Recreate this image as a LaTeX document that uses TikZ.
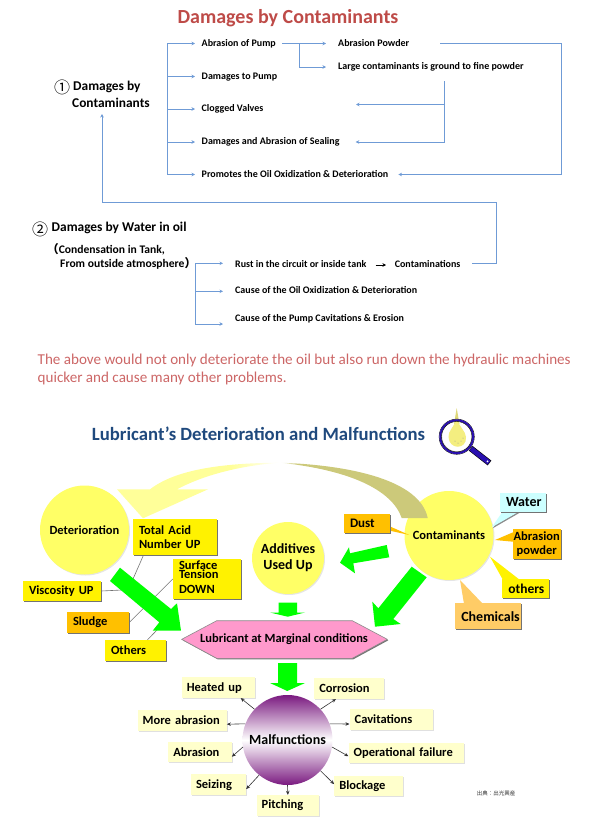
\documentclass[tikz,border=0pt]{standalone}
\usepackage{fontspec}
\setmainfont{Carlito}
\newfontfamily\cjk{Noto Sans CJK JP}
\usetikzlibrary{arrows.meta,positioning,calc,shadows}
\definecolor{flowblue}{HTML}{6F9BD6}
\definecolor{redtitle}{HTML}{BE4B48}
\definecolor{rednote}{HTML}{CC6666}
\definecolor{navytitle}{HTML}{1F497D}
\definecolor{circyellow}{HTML}{FFFF66}
\definecolor{tagorange}{HTML}{FFC000}
\definecolor{tagcyan}{HTML}{CCFFFF}
\definecolor{tagpeach}{HTML}{FFCC66}
\definecolor{hexpink}{HTML}{FF99CC}
\definecolor{paleyellow}{HTML}{FFFFCC}
\definecolor{arcyellow}{HTML}{FFFF99}
\definecolor{arctan}{HTML}{CCC97A}
\definecolor{purplem}{HTML}{7A1A80}
\definecolor{lensblue}{HTML}{2A10B0}
\pgfdeclarehorizontalshading{arcleft}{100bp}{color(0bp)=(arcyellow); color(60bp)=(arcyellow); color(75bp)=(white); color(100bp)=(white)}
\pgfdeclarehorizontalshading{arcright}{100bp}{color(0bp)=(white); color(25bp)=(white); color(31bp)=(arctan); color(100bp)=(arctan)}
\begin{document}
\begin{tikzpicture}[
    x=1pt,y=-1pt,
    flow/.style={-{Stealth[length=3.5pt,width=3.5pt]},flowblue,line width=0.7pt},
    item/.style={font=\fontsize{10}{12}\selectfont\bfseries,anchor=west,inner sep=0pt,text height=1.5ex,text depth=.3ex},
    head/.style={font=\fontsize{13.4}{15}\selectfont\bfseries,anchor=west,inner sep=0pt,text height=1.5ex,text depth=.3ex},
    sub/.style={item,font=\fontsize{11.6}{13}\selectfont\bfseries},
    note/.style={font=\fontsize{15.1}{18}\selectfont,text=rednote,anchor=west,inner sep=0pt},
    softshadow/.style={drop shadow={shadow xshift=1pt,shadow yshift=-1pt,fill=black!#1,opacity=1}},
    bigcirc/.style={circle,fill=circyellow,inner sep=0pt,minimum size=#1,softshadow=10},
    tagtext/.style={font=\fontsize{12.5}{14.5}\selectfont\bfseries,align=left,inner xsep=6pt,inner ysep=0pt},
    tag/.style={tagtext,fill=yellow,softshadow=55},
    pale/.style={tagtext,fill=paleyellow,inner xsep=5pt,softshadow=12},
    wire/.style={black!55,line width=0.6pt},
    greenarrow/.style={fill=green},
    spoke/.style={-{Stealth[length=4pt,width=3.5pt]},black!80,line width=0.6pt},
]
    \useasboundingbox (0,0) rectangle (600,830);

    % upper half
    \node[font=\fontsize{20}{24}\selectfont\bfseries,text=redtitle,inner sep=0pt] (toptitle) at (288,18) {Damages by Contaminants};
    \node[head,align=left] (dmgone) at (72,105) {Contaminants};
    \node[head] (dmgtitle) at (73,88) {Damages by};
    \node[font=\cjk\fontsize{16}{16}\selectfont,inner sep=0pt] (numone) at (62,87) {①};

    \node[item] (pump) at (201.5,43.5) {Abrasion of Pump};
    \node[item] (dmgpump) at (201.5,76.5) {Damages to Pump};
    \node[item] (valves) at (201.5,109) {Clogged Valves};
    \node[item] (sealing) at (201.5,142) {Damages and Abrasion of Sealing};
    \node[item] (oxid) at (201.5,174.5) {Promotes the Oil Oxidization \& Deterioration};
    \node[item] (powder) at (338,43.5) {Abrasion Powder};
    \node[item] (large) at (338,67) {Large contaminants is ground to fine powder};

    \coordinate (trunkA) at (167,109);
    \coordinate (splitA) at (299,43.5);
    \coordinate (rightbus) at (561.5,100);
    \coordinate (tapL) at (444.6,81);
    \coordinate (valvesin) at (356,104.5);
    \coordinate (turn) at (496,202.7);
    \coordinate (titlein) at (102,114);

    \foreach \n in {pump,dmgpump,valves,sealing,oxid}
        \draw[flow,shorten >=6.5pt] (trunkA) |- (\n.west);
    \draw[flow,shorten <=6pt,shorten >=12pt] (pump.east) -- (powder.west);
    \draw[flow,shorten >=12pt] (splitA) |- (large.west);
    \draw[flow,shorten <=31pt,shorten >=10pt] (powder.east) -| (rightbus) |- (oxid.east);
    \draw[flow,shorten >=16pt] (tapL) |- (sealing.east);
    \draw[flow] (tapL) |- (valvesin);

    % water in oil
    \node[font=\cjk\fontsize{16}{16}\selectfont,inner sep=0pt] (numtwo) at (40,229) {②};
    \node[head] (watertitle) at (51.5,229) {Damages by Water in oil};
    \node[sub] (cond) at (47,250.7) {{\cjk （}Condensation in Tank,};
    \node[sub] (atmos) at (60,264.7) {From outside atmosphere{\cjk ）}};
    \node[item] (rust) at (235,265) {Rust in the circuit or inside tank};
    \node[item] (contam) at (394.6,265) {Contaminations};
    \node[item] (oxidb) at (235,291) {Cause of the Oil Oxidization \& Deterioration};
    \node[item] (cavit) at (235,319) {Cause of the Pump Cavitations \& Erosion};

    \coordinate (trunkB) at (195.4,291.3);
    \coordinate (rustin) at (223,263.3);
    \coordinate (oxidin) at (223,291.3);
    \coordinate (cavitin) at (223,324);
    \coordinate (contamout) at (472,263.3);
    \foreach \n in {rustin,oxidin,cavitin}
        \draw[flow] (trunkB) |- (\n);
    \draw[flow,black,shorten <=9pt,shorten >=8.6pt] (rust.east) -- (contam.west);
    \draw[flow] (contamout) -| (turn) -| (titlein);

    \node[note] (noteone) at (37.5,360) {The above would not only deteriorate the oil but also run down the hydraulic machines};
    \node[note] (notetwo) at (37.5,378) {quicker and cause many other problems.};

    % lower half
    \node[font=\fontsize{18.7}{24}\selectfont\bfseries,text=navytitle,inner sep=0pt] (lowtitle) at (258.5,434) {Lubricant’s Deterioration and Malfunctions};

    % magnifier
    \draw[black,line width=6pt] (470.7,448.3) -- (489.5,463);
    \draw[lensblue,line width=4.8pt] (471,448.6) -- (489,462.6);
    \fill[white] (456.7,436.7) circle (16.5);
    \fill[black!18] (456.7,436.7) circle (15.5);
    \fill[white] (457.2,436.2) circle (15);
    \fill[black!25!yellow!60!white] (456.7,408) -- (454,424) -- (459.5,424) -- cycle;
    \fill[yellow!50!white!95!black] (456.7,419) .. controls (454,427) and (448,431) .. (448.5,437) .. controls (449,450) and (467,450) .. (466,437) .. controls (465.5,431) and (459.5,427) .. cycle;
    \foreach \px/\py in {461/441,463/438,458/443,455/441}
        \fill[black!40] (\px,\py) circle (0.5);
    \draw[black,line width=0.5pt] (456.7,436.7) circle (17.6);
    \draw[lensblue,line width=2pt] (456.7,436.7) circle (16.4);
    \draw[black,line width=0.4pt] (456.7,436.7) circle (15.2);
    \fill[white] (487.5,461.3) circle (1);

    % circles, then the sweep from contaminants to deterioration
    \node[bigcirc=89pt,font=\fontsize{12.5}{15}\selectfont\bfseries] (deter) at (84.5,530) {Deterioration};
    \node[bigcirc=72pt,font=\fontsize{14}{16}\selectfont\bfseries,align=center] (additive) at (288,558) {Additives\\Used Up};
    \node[bigcirc=89pt,font=\fontsize{12.5}{15}\selectfont\bfseries] (contamc) at (449,535.5) {Contaminants};
    \shade[shading=arcleft] (280,462.7) .. controls (220,463) and (175,470) .. (150,489.3) -- (117,489.3) -- (143,518.3) -- (208,489.3) -- (177,489.3) .. controls (200,477) and (235,466) .. cycle;
    \shade[shading=arcright] (280,462.7) .. controls (350,465) and (420,480) .. (427.7,518) -- (401.7,518) .. controls (392,490) and (350,470) .. cycle;

    % tags on the left, wires first
    \coordinate (hubA) at (133,579);
    \coordinate (hubB) at (122,590);
    \coordinate (hubC) at (157,630);
    \node[tag,text width=72pt,minimum height=36pt] (acid) at (175,537) {Total Acid\\Number UP};
    \node[tag,text width=56pt,minimum height=40pt,font=\fontsize{12.5}{9}\selectfont\bfseries] (tension) at (207,579) {Surface\\Tension\\[6pt]DOWN\rule[-3pt]{0pt}{3pt}};
    \node[tag,text width=66pt,minimum height=20pt] (viscos) at (62,591) {Viscosity UP};
    \node[tag,fill=tagorange,text width=50pt,minimum height=21pt] (sludge) at (98,622.5) {Sludge};
    \node[tag,text width=49pt,minimum height=21pt] (others) at (135.5,650.5) {Others};
    \draw[wire] (acid.210.7) -- (hubA);
    \draw[wire] (viscos.east) -- (hubB);
    \draw[wire] (tension.west) -- (sludge.east);
    \draw[wire] (others.north) ++(12,0) -- (hubC);

    % tags on the right
    \coordinate (waterpt) at (491.7,527.3);
    \coordinate (dustpt) at (409.3,535);
    \coordinate (abrasionpt) at (495,540);
    \coordinate (otherspt) at (490,556.7);
    \coordinate (chempt) at (460,580);
    \fill[tagcyan,softshadow=45] (waterpt) -- (503,511) -- (520,511) -- cycle;
    \fill[tagorange] (dustpt) -- (389,526) -- (389,530.5) -- cycle;
    \fill[tagorange] (abrasionpt) -- (513,532.3) -- (513,541.7) -- cycle;
    \fill[yellow] (otherspt) -- (520,580) -- (503,580) -- cycle;
    \fill[tagpeach] (chempt) -- (483,604) -- (464,604) -- cycle;
    \node[tag,fill=tagcyan,text width=34pt,minimum height=18.5pt,font=\fontsize{14}{16}\selectfont\bfseries] (water) at (523,502.5) {Water};
    \node[tag,fill=tagorange,text width=34pt,minimum height=18.5pt,font=\fontsize{13}{15}\selectfont\bfseries] (dust) at (367,523.5) {Dust};
    \node[tag,fill=tagorange,align=center,inner xsep=0pt,text width=48pt,minimum height=30.5pt] (abrasion) at (536.7,544) {Abrasion\\powder};
    \node[tag,text width=34.7pt,minimum height=18.5pt,font=\fontsize{13.5}{15}\selectfont\bfseries] (otherstag) at (525.7,588.5) {others};
    \node[tag,fill=tagpeach,text width=54pt,minimum height=25.7pt,font=\fontsize{14}{16}\selectfont\bfseries] (chem) at (488.3,616.2) {Chemicals};

    % hexagon
    \filldraw[fill=hexpink,draw=black!45,line width=0.6pt,softshadow=55] (181.7,639.3) -- (216.7,620.7) -- (352.3,620.7) -- (387.3,639.3) -- (352.3,658.3) -- (216.7,658.3) -- cycle;
    \node[font=\fontsize{12.5}{15}\selectfont\bfseries,inner sep=0pt] (marginal) at (284,639.5) {Lubricant at Marginal conditions};

    % green arrows
    \fill[greenarrow] (120,567.7) -- (171,609) -- (177,603.3) -- (181,630.7) -- (152.7,630.7) -- (159.3,622.3) -- (110,581) -- cycle;
    \fill[greenarrow] (386.7,545) -- (389.3,557.3) -- (353.3,563.3) -- (355,573.3) -- (340,562.7) -- (349,547.3) -- (350,553.3) -- cycle;
    \fill[greenarrow] (411.7,566.7) -- (426.7,577.3) -- (393.3,619) -- (400.7,624) -- (375,626.7) -- (372.3,601.7) -- (378.3,608.3) -- cycle;
    \fill[greenarrow] (278.5,602.7) -- (297,602.7) -- (297,612.5) -- (305,612.5) -- (287.7,616.7) -- (270,612.5) -- (278.5,612.5) -- cycle;
    \fill[greenarrow] (278,663) -- (297,663) -- (297,683) -- (305,683) -- (287.3,691) -- (270,683) -- (278,683) -- cycle;

    % malfunctions
    \node[circle,inner sep=0pt,minimum size=90pt,top color=purplem,bottom color=purplem,middle color=white,font=\fontsize{14}{18}\selectfont\bfseries] (malf) at (287.5,740) {Malfunctions};
    \node[pale,text width=63pt,minimum height=20.5pt] (heated) at (218.3,687.6) {Heated up};
    \node[pale,text width=60pt,minimum height=20.5pt] (corros) at (349.3,688.6) {Corrosion};
    \node[pale,text width=79pt,minimum height=20.5pt] (moreab) at (182.2,720.3) {More abrasion};
    \node[pale,text width=73.6pt,minimum height=20.5pt] (cavs) at (391.5,719.6) {Cavitations};
    \node[pale,text width=53.4pt,minimum height=20.5pt] (abras) at (200,752.2) {Abrasion};
    \node[pale,text width=105.4pt,minimum height=20.5pt] (opfail) at (406.3,753.2) {Operational failure};
    \node[pale,text width=45pt,minimum height=20.5pt] (seiz) at (218.5,784.7) {Seizing};
    \node[pale,text width=58.4pt,minimum height=20.5pt] (block) at (368.5,785.9) {Blockage};
    \node[pale,text width=52.4pt,minimum height=20.5pt] (pitch) at (287.9,805.3) {Pitching};
    \draw[spoke] (malf.137) -- (heated.-25);
    \draw[spoke] (malf.43) -- (corros.218);
    \draw[spoke] (malf.159) -- (moreab.-5);
    \draw[spoke] (malf.21) -- (cavs.186);
    \draw[spoke] (malf.189) -- (abras.-8);
    \draw[spoke] (malf.-9) -- (opfail.183.5);
    \draw[spoke] (malf.231) -- (seiz.-9.5);
    \draw[spoke] (malf.-43) -- (block.177);
    \draw[spoke] (malf.-90) -- (pitch.90);

    \node[font=\cjk\fontsize{5.5}{6}\selectfont,inner sep=0pt,text=black!80] (source) at (496,793) {出典：出光興産};
\end{tikzpicture}
\end{document}
